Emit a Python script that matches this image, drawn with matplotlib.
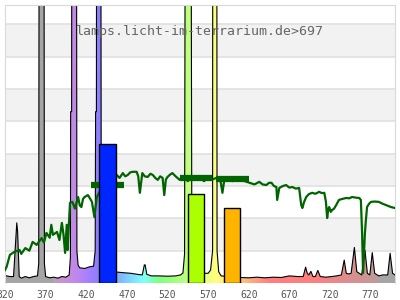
import numpy as np
import matplotlib.pyplot as plt
from matplotlib.patches import Polygon

# lamp spectrum (wavelength nm, relative value)
lamp_wl = [320, 322, 326, 330.5, 334.5, 335.5, 337.5, 340, 345, 350, 355, 360,
           361.5, 362, 368, 368.5, 370, 375, 380, 385, 390, 395,
           399, 400.5, 400.8, 402, 402.2, 408, 408.5, 410, 412, 418, 424,
           429, 431, 431.5, 432.5, 432.7, 438, 438.5, 441, 450, 457, 465, 475, 485,
           489, 491.5, 492.5, 494.5, 500, 510, 520, 530, 536, 539,
           541, 541.8, 549, 550, 553, 560, 566, 570,
           573, 575.5, 575.7, 580.7, 581, 583, 586, 595, 610, 620, 630, 640, 650,
           660, 670, 680, 687, 690, 692, 694, 696.5, 699, 702, 705, 708, 715, 722,
           728, 734, 737.5, 740, 743, 746, 750, 753, 756, 759, 763, 766, 769, 772,
           775, 780, 785, 791, 794, 797, 800]
lamp_val = [0.25, 0.22, 0.2, 0.2, 1.86, 1.6, 0.2, 0.15, 0.2, 0.16, 0.2, 0.22,
            0.6, 12, 12, 0.6, 0.2, 0.16, 0.18, 0.15, 0.2, 0.18,
            0.25, 0.8, 5.3, 5.3, 12, 12, 1.0, 0.55, 0.47, 0.45, 0.5,
            0.52, 1.0, 5.3, 5.3, 12, 12, 1.0, 0.4, 0.35, 0.34, 0.32, 0.3, 0.26,
            0.25, 0.56, 0.56, 0.27, 0.22, 0.22, 0.21, 0.22, 0.25, 0.31,
            0.9, 12, 12, 1.0, 0.4, 0.3, 0.3, 0.3,
            0.4, 1.0, 12, 12, 1.0, 0.35, 0.22, 0.2, 0.17, 0.16, 0.18, 0.16, 0.18,
            0.17, 0.22, 0.2, 0.2, 0.49, 0.3, 0.25, 0.36, 0.2, 0.2, 0.39, 0.2, 0.18, 0.2,
            0.22, 0.25, 0.71, 0.3, 0.28, 0.3, 1.1, 0.35, 0.3, 0.25, 1.02, 0.3, 0.25, 0.94,
            0.3, 0.22, 0.25, 0.25, 0.92, 0.3, 0.25]

# daylight curve
sun_wl = [320, 322, 326, 332, 338, 340, 345, 350, 354, 359, 365, 368, 371, 375,
          377, 379, 384, 387, 390, 392, 394, 396, 397, 400, 403, 406, 408, 410,
          412, 414, 416, 418, 422, 425, 427, 430, 433, 436, 445, 457.5, 461, 465,
          468, 471, 474, 477, 482, 484, 486, 489, 492, 495.6, 499, 502, 505, 508,
          511, 514, 516, 518, 520, 523, 526, 530, 535, 538, 541, 545, 550, 555,
          560, 565, 570, 575, 580, 585, 587.6, 590, 595, 600, 605, 610, 615, 621,
          627, 633, 637, 641.6, 645, 648, 651, 654, 655, 657.6, 662, 666, 670,
          673.5, 678, 682, 684.6, 686, 688, 690.7, 694, 698, 702, 706.7, 710, 713,
          715, 716.5, 718, 719, 721, 722.7, 725, 727.6, 731, 735, 740, 744, 747,
          752, 756, 758, 759.5, 760.7, 762, 763, 764, 765.6, 768, 770.5, 775, 780,
          785, 789, 792, 795, 800]
sun_val = [0.4, 0.5, 0.87, 0.97, 1.02, 0.9, 1.08, 1.0, 1.27, 1.18, 1.39, 1.25, 1.55, 1.4,
           1.80, 1.49, 1.58, 1.33, 1.86, 1.5, 0.93, 1.80, 1.02, 2.48, 2.51, 2.3, 2.48, 2.66,
           2.4, 2.35, 2.6, 2.66, 2.72, 2.6, 2.51, 2.04, 2.66, 2.8, 3.2, 3.34, 3.25, 3.40,
           3.3, 3.34, 3.42, 3.44, 3.44, 3.3, 2.79, 3.40, 3.3, 3.28, 3.38, 3.34, 3.25, 3.19,
           3.3, 3.25, 2.72, 3.2, 3.28, 3.35, 3.40, 3.3, 3.19, 3.3, 3.25, 3.15, 3.3, 3.2,
           3.25, 3.15, 3.28, 3.2, 3.25, 3.2, 2.79, 3.2, 3.25, 3.15, 3.25, 3.2, 3.15, 3.10,
           3.05, 3.13, 3.05, 3.03, 3.1, 3.10, 3.0, 2.97, 2.57, 2.94, 3.0, 3.03, 2.95,
           2.97, 2.92, 2.94, 2.41, 2.32, 2.5, 2.66, 2.75, 2.79, 2.76, 2.82, 2.78, 2.79,
           2.51, 2.01, 2.3, 2.35, 2.2, 2.26, 2.3, 2.41, 2.57, 2.6, 2.63, 2.62, 2.66,
           2.64, 2.63, 2.57, 1.55, 0.31, 1.0, 1.55, 1.89, 2.35, 2.45, 2.51, 2.52, 2.51,
           2.45, 2.41, 2.38, 2.35, 2.32]

# LED bands
bar_lo = [436, 545, 589]
bar_hi = [456, 565, 609]
bar_val = [4.30, 2.76, 2.31]
bar_colors = ["#0026ff", "#aaff00", "#ffb400"]

# daylight average over each band (+-20 nm)
avg_lo = [426, 535, 580]
avg_hi = [466, 575, 620]
avg_val = [3.03, 3.24, 3.22]

xticks = list(range(320, 800, 50))
title = "lamps.licht-im-terrarium.de>697"


def wl_color(w):
    if w < 380:
        r, g, b = 0, 0, 0
    elif w < 440:
        r, g, b = (440 - w) / 60, 0, 1
    elif w < 490:
        r, g, b = 0, (w - 440) / 50, 1
    elif w < 510:
        r, g, b = 0, 1, (510 - w) / 20
    elif w < 580:
        r, g, b = (w - 510) / 70, 1, 0
    elif w < 645:
        r, g, b = 1, (645 - w) / 65, 0
    elif w <= 780:
        r, g, b = 1, 0, 0
    else:
        r, g, b = 0, 0, 0
    if w < 380 or w > 780:
        f = 0
    elif w < 420:
        f = 0.3 + 0.7 * (w - 380) / 40
    elif w > 700:
        f = 0.3 + 0.7 * (780 - w) / 80
    else:
        f = 1
    base = np.array([r, g, b]) * f + 0.3 * (1 - f)
    return 0.5 + 0.5 * base


fig = plt.figure(figsize=(4, 3), dpi=100)
ax = fig.add_axes([5 / 400, 17 / 300, 390 / 400, 278 / 300])
ymax = 8.6
ax.set_xlim(320, 800)
ax.set_ylim(0, ymax)

for k in [1, 3, 5, 7]:
    ax.axhspan(k, k + 1, color="#f2f2f2", lw=0, zorder=0)
for k in range(1, 9):
    ax.axhline(k, color="#e0e0e0", lw=1.2, zorder=0.5)

# spectral colour fill clipped to the lamp curve
grad_x = np.linspace(320, 800, 481)
img = np.array([[wl_color(w) for w in grad_x]])
im = ax.imshow(img, extent=(320, 800, 0, ymax), aspect="auto", zorder=1,
               interpolation="bilinear")
poly = Polygon([(lamp_wl[0], 0)] + list(zip(lamp_wl, lamp_val)) + [(lamp_wl[-1], 0)],
               closed=True, facecolor="none", edgecolor="none")
ax.add_patch(poly)
im.set_clip_path(poly)
ax.plot(lamp_wl, lamp_val, color="black", lw=0.8, zorder=2)

ax.plot(sun_wl, sun_val, color="#006400", lw=1.6, zorder=3)
for lo, hi, v in zip(avg_lo, avg_hi, avg_val):
    ax.plot([lo, hi], [v, v], color="#006400", lw=4.5, solid_capstyle="butt", zorder=3)

for lo, hi, v, c in zip(bar_lo, bar_hi, bar_val, bar_colors):
    ax.bar(lo, v, width=hi - lo, align="edge", color=c, edgecolor="black", lw=1, zorder=4)

ax.text(0.501, 0.903, title, transform=ax.transAxes, ha="center", va="center",
        family="DejaVu Sans Mono", fontsize=9.5, color="#666666", zorder=5)

ax.set_xticks(xticks)
ax.set_xticklabels([str(t) for t in xticks], family="DejaVu Sans Mono",
                   fontsize=7, color="#555555")
ax.tick_params(axis="x", length=0, pad=5)
ax.set_yticks([])
for s in ["left", "top", "right"]:
    ax.spines[s].set_color("#d9d9d9")
ax.spines["bottom"].set_visible(False)

fig.savefig("out.png", dpi=100)
